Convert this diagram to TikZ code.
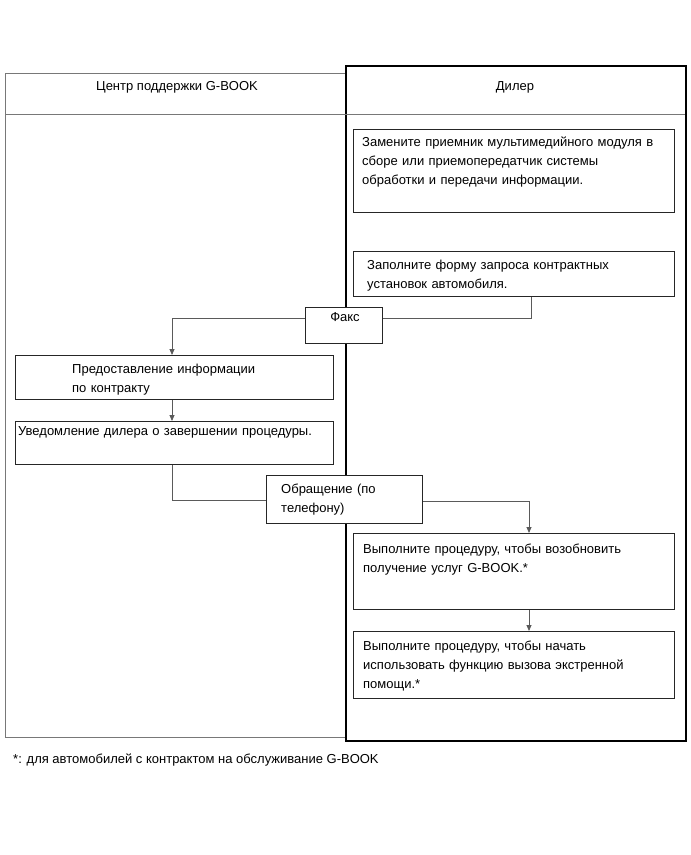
\documentclass[tikz,border=0pt]{standalone}
\usepackage{fontspec}
\setmainfont{Liberation Sans}
\usetikzlibrary{arrows.meta}
\definecolor{lgray}{RGB}{120,120,120}
\definecolor{cgray}{RGB}{90,90,90}
\tikzset{
  colL/.style={draw=lgray, line width=0.8pt, anchor=north west, inner sep=0pt},
  colR/.style={draw=black, line width=2pt, anchor=north west, inner sep=0pt},
  divline/.style={draw=lgray, line width=0.6pt},
  boxnode/.style={draw=black!85, line width=0.9pt, fill=white, anchor=north west, inner sep=0pt},
  txt/.style={inner sep=0pt, anchor=base west, align=left, text width=320pt},
  conn/.style={draw=cgray, line width=0.8pt},
  arr/.style={conn, -{Triangle[length=6pt,width=5pt]}},
}
\begin{document}
\begin{tikzpicture}[x=1pt,y=-1pt, font=\fontsize{13}{19}\selectfont]
\useasboundingbox (0,0) rectangle (691,855);
% columns
\node[colL, minimum width=340pt, minimum height=664pt] (L) at (5,73) {};
\node[colR, minimum width=340pt, minimum height=675pt] (R) at (345,65) {};
\coordinate (dl) at (5,114);
\coordinate (dr) at (685,114);
\draw[divline] (dl) -- (dr);
\node[inner sep=0pt, anchor=base] (hL) at (177,90) {Центр поддержки G-BOOK};
\node[inner sep=0pt, anchor=base] (hR) at (515,90) {Дилер};
% boxes
\node[boxnode, minimum width=321pt, minimum height=83pt] (b1) at (353,129) {};
\node[boxnode, minimum width=321pt, minimum height=45pt] (b2) at (353,251) {};
\node[boxnode, minimum width=318pt, minimum height=44pt] (b3) at (15,355) {};
\node[boxnode, minimum width=318pt, minimum height=43pt] (b4) at (15,421) {};
\node[boxnode, minimum width=321pt, minimum height=76pt] (b5) at (353,533) {};
\node[boxnode, minimum width=321pt, minimum height=67pt] (b6) at (353,631) {};
% connectors
\coordinate (c1) at (531,318);
\coordinate (fx) at (172,318);
\coordinate (tl) at (172,500);
\coordinate (tr) at (529,501);
\node[boxnode, minimum width=77pt, minimum height=36pt] (fax) at (305,307) {};
\node[boxnode, minimum width=156pt, minimum height=48pt] (tel) at (266,475) {};
\draw[conn] (b2.south -| c1) -- (c1) -- (c1 -| fax.east);
\draw[arr] (fax.west |- fx) -- (fx) -- (fx |- b3.north);
\draw[arr] (b3.south -| fx) -- (b4.north -| fx);
\draw[conn] (b4.south -| tl) -- (tl) -- (tel.west |- tl);
\draw[arr] (tel.east |- tr) -- (tr) -- (b5.north -| tr);
\draw[arr] (b5.south -| tr) -- (b6.north -| tr);
% texts
\node[txt] (t1) at (362,146) {Замените приемник мультимедийного модуля в\\сборе или приемопередатчик системы\\обработки и передачи информации.};
\node[txt] (t2) at (367,269) {Заполните форму запроса контрактных\\установок автомобиля.};
\node[inner sep=0pt, anchor=base] (tfax) at (345,321) {Факс};
\node[txt] (t3) at (72,373) {Предоставление информации\\по контракту};
\node[txt] (t4) at (18,435) {Уведомление дилера о завершении процедуры.};
\node[txt] (ttel) at (281,493) {Обращение (по\\телефону)};
\node[txt] (t5) at (363,553) {Выполните процедуру, чтобы возобновить\\получение услуг G-BOOK.*};
\node[txt] (t6) at (363,650) {Выполните процедуру, чтобы начать\\использовать функцию вызова экстренной\\помощи.*};
\node[inner sep=0pt, anchor=base west] (foot) at (13,763) {*: для автомобилей с контрактом на обслуживание G-BOOK};
\end{tikzpicture}
\end{document}
